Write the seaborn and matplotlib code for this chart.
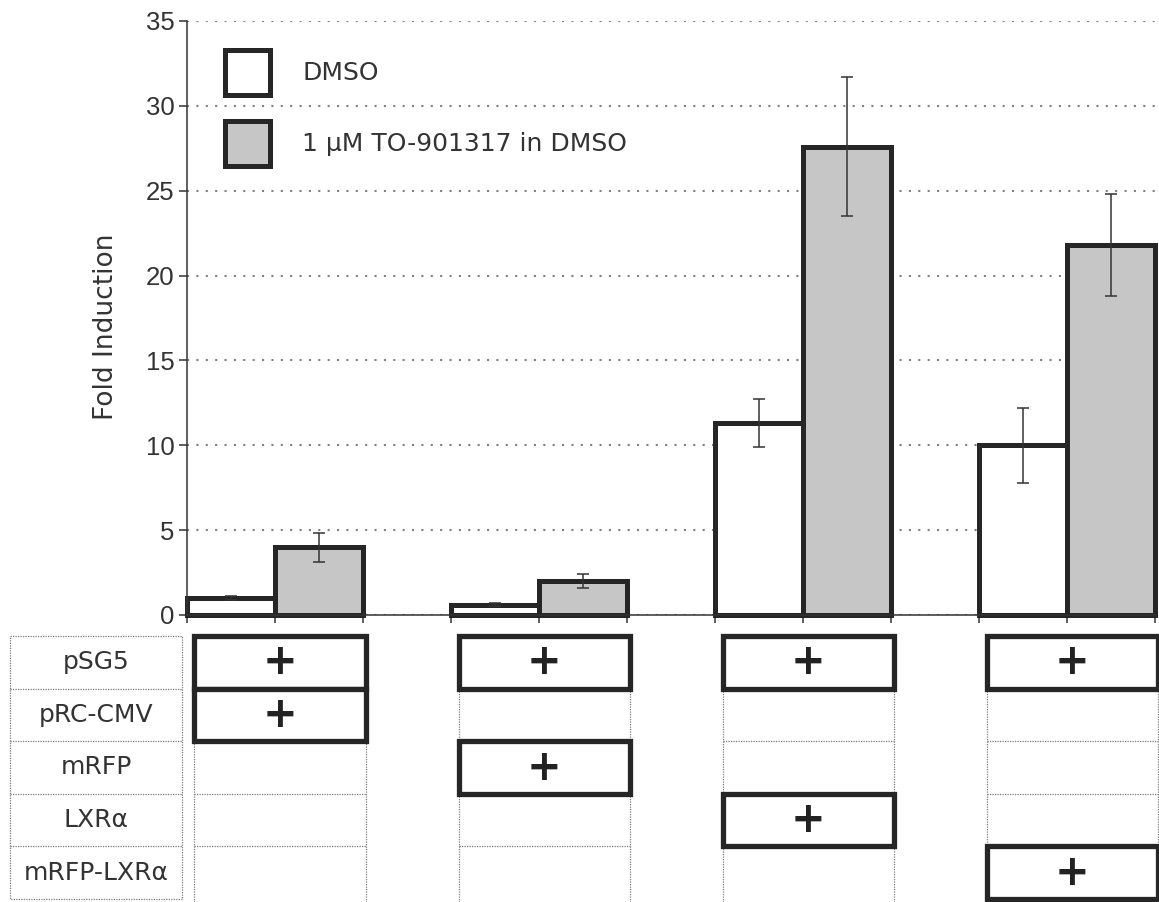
import numpy as np
import pandas as pd
import seaborn as sns
import matplotlib.pyplot as plt
from matplotlib.patches import Patch, Rectangle

# data
constructs = ["pSG5 + pRC-CMV", "pSG5 + mRFP", "pSG5 + LXRa", "pSG5 + mRFP-LXRa"]
treatments = ["DMSO", "1 \u03bcM TO-901317 in DMSO"]
dmso_mean = [1.0, 0.6, 11.3, 10.0]
dmso_err = [0.12, 0.08, 1.4, 2.2]
to_mean = [4.0, 2.0, 27.6, 21.8]
to_err = [0.85, 0.4, 4.1, 3.0]

row_labels = ["pSG5", "pRC-CMV", "mRFP", "LXR\u03b1", "mRFP-LXR\u03b1"]
# 1 = plasmid transfected ("+") for each construct column
plasmid_matrix = [
    [1, 1, 1, 1],
    [1, 0, 0, 0],
    [0, 1, 0, 0],
    [0, 0, 1, 0],
    [0, 0, 0, 1],
]

df = pd.DataFrame({
    "construct": constructs * 2,
    "treatment": [treatments[0]] * 4 + [treatments[1]] * 4,
    "fold": dmso_mean + to_mean,
    "err": dmso_err + to_err,
})

sns.set_style("white")
plt.rcParams["font.family"] = ["DejaVu Sans"]

edge = "#262626"
gray = "#c6c6c6"
bar_w = 0.665

fig = plt.figure(figsize=(11.59, 9.02), dpi=100)
ax = fig.add_axes([187 / 1159, 1 - 615 / 902, 968 / 1159, 594 / 902])

sns.barplot(data=df, x="construct", y="fold", hue="treatment",
            hue_order=treatments, order=constructs,
            palette=["white", gray], edgecolor=edge, linewidth=3.6,
            width=bar_w, errorbar=None, legend=False, ax=ax)

# error bars, matched to bars sorted by position
bars = sorted(ax.patches, key=lambda p: p.get_x())
vals, errs = [], []
for i in range(len(constructs)):
    vals += [dmso_mean[i], to_mean[i]]
    errs += [dmso_err[i], to_err[i]]
edges_x = []
for p, v, e in zip(bars, vals, errs):
    p.set_clip_on(False)
    cx = p.get_x() + p.get_width() / 2
    ax.errorbar(cx, v, yerr=e, fmt="none", ecolor="#333333",
                elinewidth=1.1, capsize=4.3, capthick=1.1, zorder=5)
    edges_x += [p.get_x(), p.get_x() + p.get_width()]

half = bar_w / 2
ax.set_xlim(-half, len(constructs) - 1 + half)
ax.set_ylim(0, 35)
ax.set_yticks(np.arange(0, 36, 5))
ax.set_xticks(sorted(set(np.round(edges_x, 4))))
ax.set_xticklabels([])
ax.set_xlabel("")
ax.set_ylabel("Fold Induction", fontsize=19, color="#333333")
ax.yaxis.set_label_coords(-0.070, 0.485)
for lab in ax.get_yticklabels():
    lab.set_fontfamily("Liberation Sans")
    lab.set_fontsize(18.5)
    lab.set_color("#333333")
ax.tick_params(axis="y", length=6, width=1.1, color="#333333", pad=3, left=True)
ax.tick_params(axis="x", length=6, width=1.1, color="#333333", bottom=True)
ax.yaxis.grid(True, linestyle=(0, (1, 3.5)), linewidth=1.5, color="#808080")
ax.set_axisbelow(True)
sns.despine(ax=ax, top=True, right=True)
for s in ["left", "bottom"]:
    ax.spines[s].set_color("#333333")
    ax.spines[s].set_linewidth(1.1)

handles = [Patch(facecolor="white", edgecolor=edge, linewidth=3.6),
           Patch(facecolor=gray, edgecolor=edge, linewidth=3.6)]
ax.legend(handles, treatments, loc="upper left", bbox_to_anchor=(0.039, 0.952),
          frameon=False, fontsize=18, handlelength=1.8, handleheight=2.4,
          handletextpad=1.3, labelspacing=1.05, borderpad=0, borderaxespad=0,
          labelcolor="#333333")

# plasmid table below the bars
tab = fig.add_axes([187 / 1159, 0, 968 / 1159, 266 / 902], sharex=ax)
n_rows = len(row_labels)
tab.set_ylim(n_rows + 3 / 52.6, 0)
tab.axis("off")
dot = dict(color="#7a7a7a", linewidth=0.9, linestyle=(0, (1, 1)), clip_on=False)

# label column, left of the axis
lab_l, lab_r = -half - 177 / 264, -half - 5 / 264
tab.plot([lab_l, lab_r, lab_r, lab_l, lab_l], [0, 0, n_rows, n_rows, 0], **dot)
for r, name in enumerate(row_labels):
    if r > 0:
        tab.plot([lab_l, lab_r], [r, r], **dot)
    tab.text((lab_l + lab_r) / 2, r + 0.5, name, ha="center", va="center",
             fontsize=18, color="#333333", clip_on=False)

for c in range(len(constructs)):
    cl, cr = c - half + 0.028, c + half + 0.012
    tab.plot([cl, cl], [0, n_rows + 0.1], **dot)
    tab.plot([cr, cr], [0, n_rows + 0.1], **dot)
    for r in range(1, n_rows):
        tab.plot([cl, cr], [r, r], **dot)
    for r in range(n_rows):
        if plasmid_matrix[r][c]:
            tab.add_patch(Rectangle((cl, r), cr - cl, 1, facecolor="white",
                                    edgecolor=edge, linewidth=3.8, clip_on=False,
                                    zorder=3))
            tab.text((cl + cr) / 2, r + 0.5, "+", ha="center", va="center",
                     fontsize=30, fontweight="bold", color="#222222", zorder=4)

fig.savefig("out.png", dpi=100)
